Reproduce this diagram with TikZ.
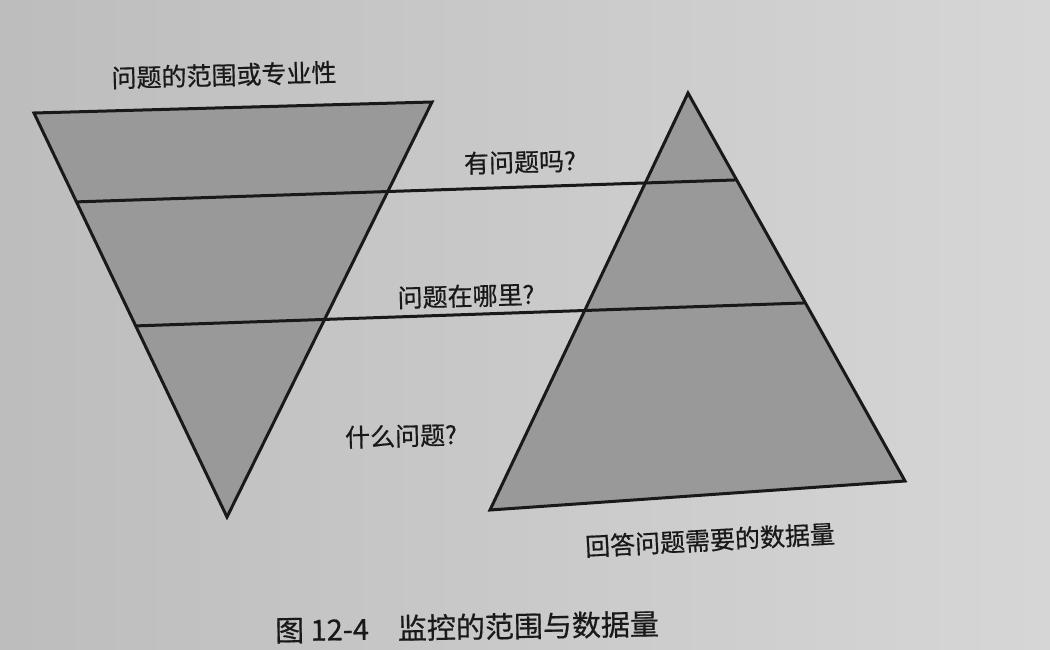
\documentclass[tikz,border=0pt]{standalone}
\usepackage{fontspec}
\usetikzlibrary{calc}
\newfontfamily\cjk[FakeBold=0.6]{Noto Sans CJK SC}
\definecolor{paperL}{gray}{0.74}
\definecolor{paperR}{gray}{0.84}
\definecolor{tri}{gray}{0.6}
\definecolor{ink}{gray}{0.1}
\begin{document}
\begin{tikzpicture}[x=1pt,y=-1pt,
  shape3/.style={fill=tri},
  edge/.style={draw=ink,line width=3pt,line join=miter},
  lbl/.style={font=\cjk\fontsize{25}{25}\selectfont,text=ink,inner sep=0pt},
  captiontext/.style={font=\cjk\fontsize{29}{29}\selectfont,text=ink,inner sep=0pt}]
\shade[left color=paperL,right color=paperR] (0,0) rectangle (1050,649);
\useasboundingbox (0,0) rectangle (1050,649);
% left inverted triangle
\coordinate (L1) at (34,113);
\coordinate (L2) at (432,102);
\coordinate (LA) at (227,517);
% right triangle
\coordinate (RA) at (688,93);
\coordinate (R1) at (490,510);
\coordinate (R2) at (905,481);
% crossing lines
\coordinate (a1) at ($(L1)!0.22!(LA)$);
\coordinate (b1) at ($(RA)!0.224!(R2)$);
\coordinate (a2) at ($(L1)!0.527!(LA)$);
\coordinate (b2) at ($(RA)!0.541!(R2)$);
\fill[shape3] (L1) -- (L2) -- (LA) -- cycle;
\fill[shape3] (RA) -- (R2) -- (R1) -- cycle;
\draw[edge] (L1) -- (L2) -- (LA) -- cycle;
\draw[edge] (RA) -- (R2) -- (R1) -- cycle;
\draw[edge] (a1) -- (b1);
\draw[edge] (a2) -- (b2);
% labels
\node[lbl,rotate=1.5] (t0) at (224,75) {问题的范围或专业性};
\node[lbl,rotate=1.5] (t1) at (520,162) {有问题吗?};
\node[lbl,rotate=1.5] (t2) at (466,296) {问题在哪里?};
\node[lbl,rotate=1.5] (t3) at (401,436) {什么问题?};
\node[lbl,rotate=3] (t4) at (710,540) {回答问题需要的数据量};
\node[captiontext,rotate=1] (c) at (467,627) {图 12-4\hspace{1em}监控的范围与数据量};
\end{tikzpicture}
\end{document}
